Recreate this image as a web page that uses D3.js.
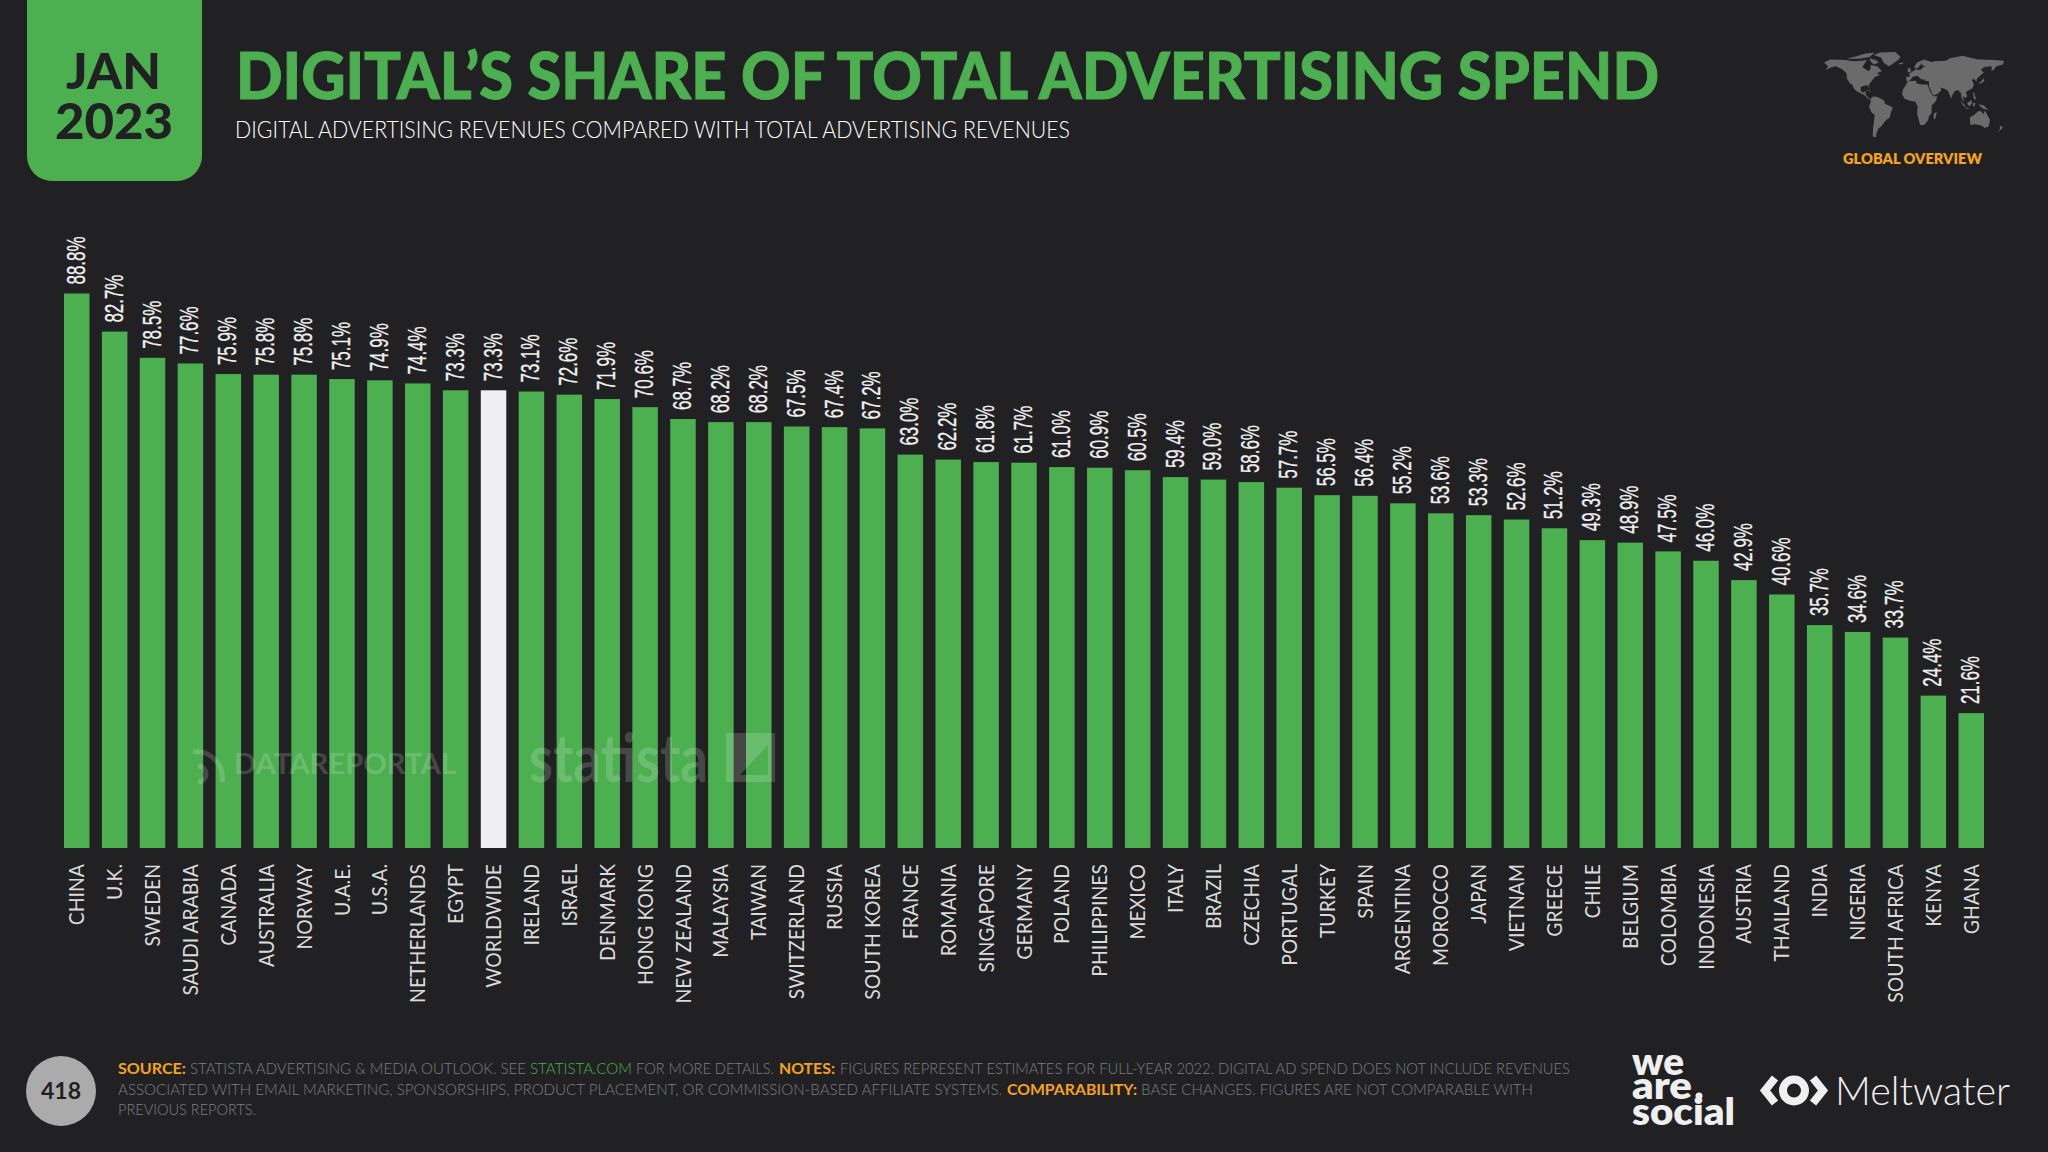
<!DOCTYPE html>
<html>
<head>
<meta charset="utf-8">
<script src="https://cdn.jsdelivr.net/npm/d3@7"></script>
<style>
  html, body { margin: 0; padding: 0; background: #212123; }
  svg { display: block; }
  text { font-family: Lato, "Noto Sans", sans-serif; }
</style>
</head>
<body>
<div id="chart"></div>
<script>
// categories and values
const categories = ['CHINA','U.K.','SWEDEN','SAUDI ARABIA','CANADA','AUSTRALIA','NORWAY','U.A.E.','U.S.A.','NETHERLANDS','EGYPT','WORLDWIDE','IRELAND','ISRAEL','DENMARK','HONG KONG','NEW ZEALAND','MALAYSIA','TAIWAN','SWITZERLAND','RUSSIA','SOUTH KOREA','FRANCE','ROMANIA','SINGAPORE','GERMANY','POLAND','PHILIPPINES','MEXICO','ITALY','BRAZIL','CZECHIA','PORTUGAL','TURKEY','SPAIN','ARGENTINA','MOROCCO','JAPAN','VIETNAM','GREECE','CHILE','BELGIUM','COLOMBIA','INDONESIA','AUSTRIA','THAILAND','INDIA','NIGERIA','SOUTH AFRICA','KENYA','GHANA'];
const values = [88.8,82.7,78.5,77.6,75.9,75.8,75.8,75.1,74.9,74.4,73.3,73.3,73.1,72.6,71.9,70.6,68.7,68.2,68.2,67.5,67.4,67.2,63.0,62.2,61.8,61.7,61.0,60.9,60.5,59.4,59.0,58.6,57.7,56.5,56.4,55.2,53.6,53.3,52.6,51.2,49.3,48.9,47.5,46.0,42.9,40.6,35.7,34.6,33.7,24.4,21.6];
const highlighted = 'WORLDWIDE';

// rough continent outlines for the small map, lon/lat
const landShapes = [
  [[-168,66],[-156,71],[-128,70],[-110,68],[-95,69],[-85,70],[-94,59],[-82,52],[-78,56],[-78,62],[-65,60],[-56,52],[-66,49],[-60,46],[-70,43],[-76,36],[-81,31],[-80,25],[-84,30],[-90,29],[-97,27],[-97,20],[-91,18],[-87,21],[-88,16],[-83,10],[-78,8],[-82,7],[-90,14],[-105,20],[-110,24],[-113,30],[-118,33],[-124,41],[-124,48],[-132,55],[-145,60],[-155,58],[-165,54],[-160,60]],
  [[-72,78],[-60,82],[-30,83],[-20,75],[-25,70],[-42,60],[-52,65],[-58,74]],
  [[-125,72],[-105,76],[-90,80],[-70,82],[-80,75],[-100,72]],
  [[-80,73],[-68,70],[-62,66],[-72,63],[-78,68]],
  [[-84,22],[-75,20],[-78,20],[-84,21]],
  [[-78,8],[-72,12],[-62,10],[-52,5],[-50,0],[-35,-6],[-39,-15],[-41,-22],[-48,-26],[-57,-36],[-63,-40],[-66,-46],[-68,-54],[-74,-52],[-73,-38],[-70,-18],[-76,-14],[-81,-5],[-78,2]],
  [[-17,15],[-16,22],[-9,31],[-6,36],[10,37],[11,33],[20,31],[32,31],[34,27],[37,20],[43,12],[51,12],[48,4],[40,-3],[40,-15],[35,-20],[33,-27],[26,-34],[18,-34],[12,-17],[13,-5],[9,3],[-4,5],[-12,8]],
  [[-9,37],[-9,43],[-1,44],[-4,48],[4,52],[8,54],[8,57],[12,54],[20,55],[24,59],[30,60],[22,61],[22,65],[17,61],[12,56],[6,59],[12,66],[25,71],[40,67],[45,68],[68,69],[75,73],[100,77],[113,74],[130,71],[160,70],[180,69],[178,63],[165,60],[162,56],[156,52],[156,60],[142,59],[135,54],[141,50],[130,42],[127,39],[127,35],[122,40],[118,38],[122,31],[119,25],[110,21],[106,18],[109,12],[105,9],[100,13],[103,2],[98,9],[97,17],[91,22],[85,20],[80,14],[78,8],[73,18],[70,22],[62,25],[57,26],[59,22],[52,16],[43,13],[39,21],[35,28],[35,36],[27,37],[26,40],[23,38],[20,40],[18,40],[13,45],[8,44],[3,43],[0,39],[-5,36]],
  [[114,-22],[122,-18],[130,-12],[136,-12],[140,-17],[143,-11],[153,-26],[150,-37],[143,-39],[136,-35],[124,-33],[115,-34]],
  [[95,5],[104,-2],[106,-6],[101,-3]],
  [[109,1],[117,6],[118,1],[114,-4],[110,-2]],
  [[106,-6],[115,-8],[106,-8]],
  [[120,1],[125,1],[122,-5],[120,-4]],
  [[131,-1],[141,-3],[150,-10],[140,-8],[134,-4]],
  [[120,18],[122,18],[126,7],[122,7]],
  [[130,32],[136,36],[141,41],[142,36],[136,33]],
  [[-6,50],[1,52],[-3,58],[-6,56]],
  [[-24,65],[-14,66],[-16,64],[-22,63]],
  [[44,-16],[50,-13],[47,-25],[44,-24]],
  [[172,-35],[178,-38],[168,-46],[172,-41]]
];

// footer pieces: text, colour key, x, width
const footerRows = [
  { y: 1074, parts: [
    ['SOURCE:', 'orange', 118, 68], ['STATISTA ADVERTISING & MEDIA OUTLOOK. SEE', 'grey', 190, 336],
    ['STATISTA.COM', 'green', 530, 102], ['FOR MORE DETAILS.', 'grey', 636, 138],
    ['NOTES:', 'orange', 779, 56], ['FIGURES REPRESENT ESTIMATES FOR FULL-YEAR 2022. DIGITAL AD SPEND DOES NOT INCLUDE REVENUES', 'grey', 840, 730]
  ]},
  { y: 1095, parts: [
    ['ASSOCIATED WITH EMAIL MARKETING, SPONSORSHIPS, PRODUCT PLACEMENT, OR COMMISSION-BASED AFFILIATE SYSTEMS.', 'grey', 118, 884],
    ['COMPARABILITY:', 'orange', 1007, 130], ['BASE CHANGES. FIGURES ARE NOT COMPARABLE WITH', 'grey', 1141, 392]
  ]},
  { y: 1115, parts: [['PREVIOUS REPORTS.', 'grey', 118, 138]] }
];

const GREEN = '#4CAF50', WHITE_BAR = '#EFEEF0', BG = '#212123', ORANGE = '#F5A31C', FOOT_GREY = '#7E7E80';
const footColors = { orange: ORANGE, grey: FOOT_GREY, green: GREEN };

const width = 2048, height = 1152;
const svg = d3.select('#chart').append('svg').attr('width', width).attr('height', height);
svg.append('rect').attr('width', width).attr('height', height).attr('fill', BG);

// fitted text, lets us pin a string to the width it has in the reference
function label(parent, str, x, y, size, weight, fill, len) {
  const t = parent.append('text').attr('x', x).attr('y', y)
    .attr('font-size', size).attr('font-weight', weight).attr('fill', fill).text(str);
  if (len) t.attr('textLength', len).attr('lengthAdjust', 'spacingAndGlyphs');
  return t;
}

// header
svg.append('path')
  .attr('d', 'M27,0H202V156A25,25 0 0 1 177,181H52A25,25 0 0 1 27,156Z')
  .attr('fill', GREEN);
label(svg, 'JAN', 66, 89, 50, 900, BG, 95);
label(svg, '2023', 55, 139, 50, 900, BG, 118);
label(svg, 'DIGITAL\u2019S SHARE OF TOTAL ADVERTISING SPEND', 236, 99, 64, 900, GREEN, 1423)
  .attr('stroke', GREEN).attr('stroke-width', 1);
label(svg, 'DIGITAL ADVERTISING REVENUES COMPARED WITH TOTAL ADVERTISING REVENUES', 235, 138, 22.5, 300, '#FFFFFF', 835);

// small world map
const mapX = d3.scaleLinear().domain([-170, 180]).range([1823, 2004]);
const mapY = d3.scaleLinear().domain([83, -55]).range([52, 138]);
const mapLine = d3.line().x(d => mapX(d[0])).y(d => mapY(d[1])).curve(d3.curveLinearClosed);
svg.append('g').selectAll('path').data(landShapes).join('path')
  .attr('d', mapLine).attr('fill', '#6B6B6B');
label(svg, 'GLOBAL OVERVIEW', 1843, 164, 15.5, 800, ORANGE, 139);

// chart
const x = d3.scaleBand().domain(categories).range([64, 1984]).paddingInner(0.327).paddingOuter(0);
const y = d3.scaleLinear().domain([0, 88.8]).range([848, 293.5]);
const rows = categories.map((name, i) => ({ name, value: values[i] }));

svg.append('g').selectAll('rect').data(rows).join('rect')
  .attr('x', d => x(d.name)).attr('y', d => y(d.value))
  .attr('width', x.bandwidth()).attr('height', d => y(0) - y(d.value))
  .attr('fill', d => d.name === highlighted ? WHITE_BAR : GREEN);

svg.append('g').selectAll('text').data(rows).join('text')
  .attr('transform', d => `translate(${x(d.name) + x.bandwidth() / 2 + 8},${y(d.value) - 9}) rotate(-90)`)
  .attr('font-size', 26).attr('fill', '#F0F0F0')
  .attr('stroke', '#F0F0F0').attr('stroke-width', 0.3)
  .style('font-family', '"Liberation Sans Narrow", "Liberation Sans", sans-serif')
  .attr('textLength', 48).attr('lengthAdjust', 'spacingAndGlyphs')
  .text(d => d.value.toFixed(1) + '%');

const xAxis = svg.append('g').attr('transform', 'translate(0,848)')
  .call(d3.axisBottom(x).tickSize(0));
xAxis.select('.domain').remove();
// labels run a bit narrower than Lato, hence the scale
xAxis.selectAll('text')
  .attr('transform', 'translate(0,16) rotate(-90) scale(0.925,1)')
  .attr('x', 0).attr('y', 0).attr('dy', '0.36em')
  .attr('text-anchor', 'end')
  .attr('font-size', 21).attr('font-weight', 400).attr('fill', '#DADADA')
  .style('font-family', 'Lato, sans-serif');

// watermarks
const marks = svg.append('g').attr('opacity', 0.17).attr('fill', '#fff');
marks.append('path').attr('fill', 'none').attr('stroke', '#fff').attr('stroke-width', 5)
  .attr('d', 'M198,782A8,8 0 1 0 198,766M193,752A26,26 0 0 1 222,782');
label(marks, 'DATAREPORTAL', 234, 774, 29, 700, '#fff', 222);
label(marks, 'statista', 529, 782, 66, 700, '#fff', 179);
marks.append('path').attr('d', 'M726,733H775V782H726ZM740,775H768V745Z').attr('fill-rule', 'evenodd');

// footer
svg.append('circle').attr('cx', 61).attr('cy', 1091).attr('r', 35).attr('fill', '#ABABAB');
label(svg, '418', 61, 1099, 23, 700, BG).attr('text-anchor', 'middle');

footerRows.forEach(row => {
  row.parts.forEach(p => {
    const bold = p[1] === 'orange';
    label(svg, p[0], p[2], row.y, 15.8, bold ? 700 : 300, footColors[p[1]], p[3]);
  });
});

// logos
label(svg, 'we', 1632, 1075, 37, 800, '#EFEFEF', 52);
label(svg, 'are', 1632, 1099, 37, 800, '#EFEFEF', 60);
svg.append('circle').attr('cx', 1699).attr('cy', 1096).attr('r', 3.5).attr('fill', '#EFEFEF');
label(svg, 'social', 1632, 1125, 37, 800, '#EFEFEF', 103);
svg.append('path').attr('fill', 'none').attr('stroke', '#EFEFEF').attr('stroke-width', 8)
  .attr('d', 'M1775,1078L1765,1090.5L1775,1103M1813,1078L1823,1090.5L1813,1103');
svg.append('circle').attr('cx', 1794).attr('cy', 1090.5).attr('r', 11)
  .attr('fill', 'none').attr('stroke', '#EFEFEF').attr('stroke-width', 8);
label(svg, 'Meltwater', 1835, 1105, 40, 300, '#EFEFEF', 175);
</script>
</body>
</html>
